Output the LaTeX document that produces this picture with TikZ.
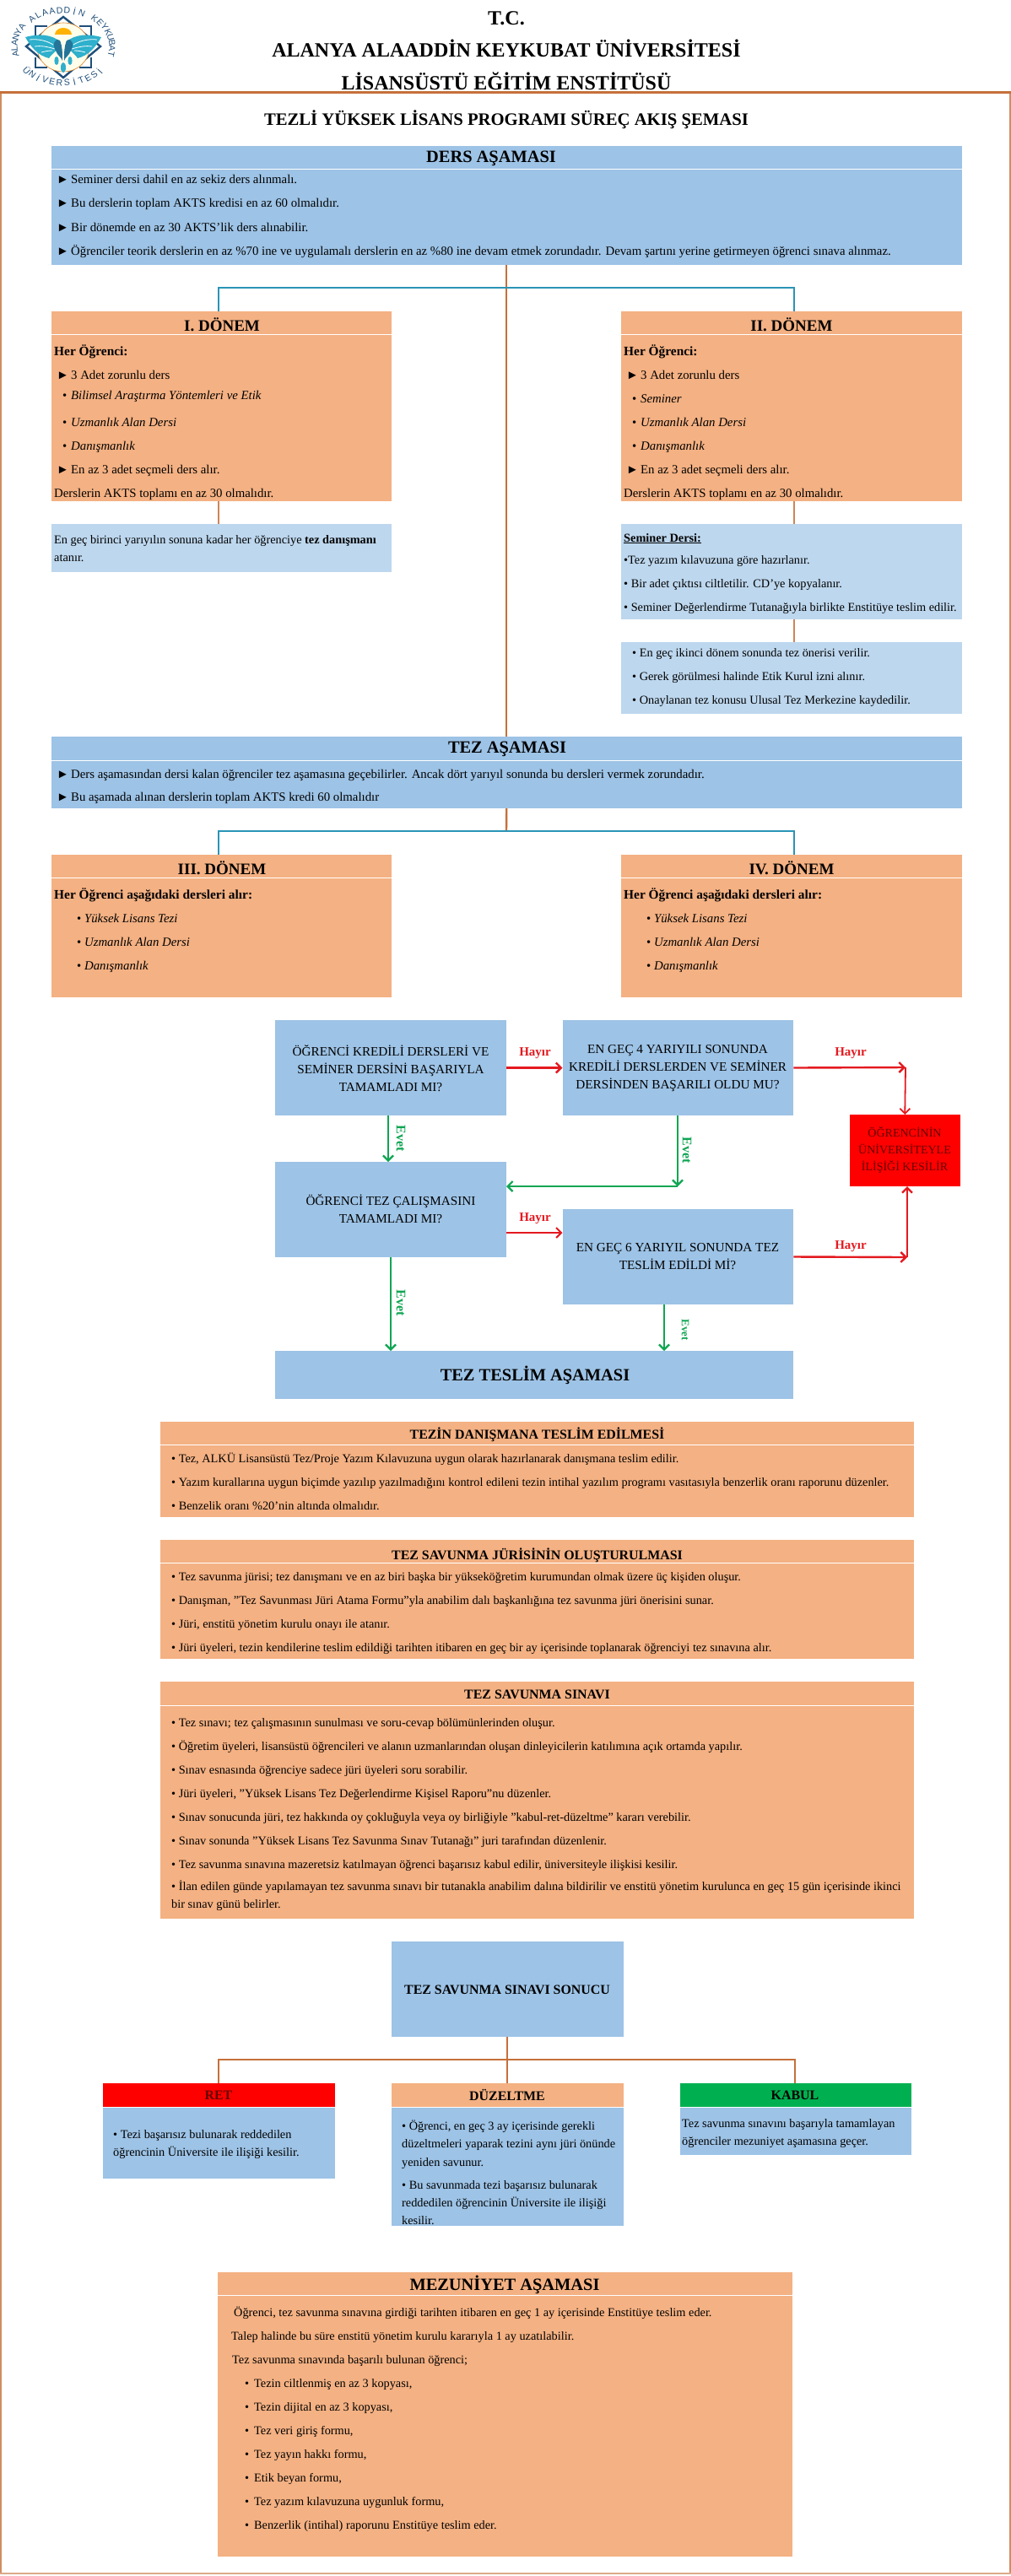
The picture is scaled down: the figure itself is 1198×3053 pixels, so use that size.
\documentclass[tikz,border=0pt]{standalone}
\usepackage{fontspec}
\setmainfont{Liberation Serif}
\newfontfamily\logofont{Liberation Sans}
\usetikzlibrary{fit,arrows.meta}
\definecolor{cBlue}{HTML}{9DC3E6}
\definecolor{cLight}{HTML}{BDD7EE}
\definecolor{cOrange}{HTML}{F4B183}
\definecolor{cBrown}{HTML}{C5703A}
\definecolor{cTeal}{HTML}{2A94B6}
\definecolor{cRed}{HTML}{E3191F}
\definecolor{cGreen}{HTML}{0FA552}
\definecolor{cKabul}{HTML}{00B050}
\definecolor{cNavy}{HTML}{1F4E79}
\definecolor{cWing}{HTML}{2FB0CC}
\tikzset{>={Straight Barb[length=6pt,width=12pt]}}
\tikzset{
  kutu/.style={inner sep=0pt,outer sep=0pt},
  satir/.style={anchor=base west,inner sep=0pt,yshift=-5pt,font=\fontsize{14.3}{17}\selectfont},
  satirb/.style={satir,font=\fontsize{14.8}{17}\selectfont},
  kalin/.style={satir,font=\bfseries\fontsize{15.4}{17}\selectfont},
  baslik/.style={inner sep=0pt,font=\bfseries\fontsize{20.4}{23}\selectfont},
  donemb/.style={inner sep=0pt,font=\bfseries\fontsize{19}{22}\selectfont},
  altbaslik/.style={inner sep=0pt,font=\bfseries\fontsize{15.9}{18}\selectfont},
  soru/.style={inner sep=0pt,align=center,font=\fontsize{15.2}{21}\selectfont},
  ustyazi/.style={inner sep=0pt,font=\bfseries\fontsize{24}{27}\selectfont},
  omurga/.style={cBrown,line width=2.4pt},
  dal/.style={cBrown!85,line width=1.8pt},
  mavidal/.style={cTeal,line width=2.6pt},
  hayirok/.style={cRed,line width=2.4pt,->},
  evetok/.style={cGreen,line width=2.2pt,->},
  hayir/.style={inner sep=0pt,text=cRed,font=\bfseries\fontsize{15}{17}\selectfont},
  evet/.style={inner sep=0pt,rotate=-90,text=cGreen,font=\bfseries\fontsize{16}{18}\selectfont},
  harf/.style={inner sep=0pt,text=cNavy,font=\logofont\fontsize{10.5}{12}\selectfont},
}
\newcommand{\kutuciz}[4]{\node[kutu,fill=#2,fit={(#3) (#4)}] (#1) {};}
\newcommand{\kural}[3]{\draw[white,line width=.8pt,double=#3,double distance=.8pt] (#1.west |- 0,#2) -- (#1.east |- 0,#2);}
\newcommand{\ok}{\makebox[17pt][l]{►}}
\newcommand{\mad}{\hspace{10pt}\makebox[10pt][l]{•}}
\begin{document}
\begin{tikzpicture}[x=1pt,y=-1pt]
    \useasboundingbox (0,0) rectangle (1198,3053);

    % logo
    \draw[cNavy,line width=2.4pt] (75,20)--(119,55)--(75,92)--(31,55)--cycle;
    \draw[cNavy,line width=2.6pt] (42,42)--(42,31)--(56,31) (94,31)--(108,31)--(108,42) (42,68)--(42,80)--(56,80) (94,80)--(108,80)--(108,68);
    \filldraw[fill=yellow!8,draw=orange!50!brown,line width=.6pt] (75,56) ellipse (31 and 29);
    \fill[orange!60!yellow] (65,41) arc (180:360:10 and 8)--cycle;
    \foreach \s in {1,-1} {
      \begin{scope}[shift={(75,0)},xscale=\s]
        \fill[cWing] (-3,50) .. controls (-14,40) and (-30,40) .. (-45,44) .. controls (-39,55) and (-30,66) .. (-17,69) .. controls (-12,62) and (-6,60) .. (-3,50);
        \draw[white,line width=.8pt] (-40,47) .. controls (-30,46) and (-20,48) .. (-12,53) (-34,55) .. controls (-27,54) and (-20,55) .. (-10,58) (-26,62) .. controls (-22,61) and (-18,60) .. (-13,60);
        \fill[cNavy!60!cWing] (-4,48) .. controls (-11,44) and (-13,54) .. (-9,60) .. controls (-7,66) and (-2,68) .. (-1,72) .. controls (-1,62) and (-1,55) .. (-4,48);
        \fill[cWing] (-8,72) ellipse (2.6 and 5);
      \end{scope}
    }
    \fill[cWing] (75,80) ellipse (3 and 6);
    \foreach \c [count=\n from 0] in {A,L,A,N,Y,A,{},A,L,A,A,D,D,İ,N,{},K,E,Y,K,U,B,A,T} {
      \node[harf,rotate={(192-8.87*\n)-90}] (ustharf\n) at ({75+58*cos(192-8.87*\n)},{55-43*sin(192-8.87*\n)}) {\c};
    }
    \foreach \c [count=\n from 0] in {Ü,N,İ,V,E,R,S,İ,T,E,S,İ} {
      \node[harf,rotate={(222+8.7*\n)+90}] (altharf\n) at ({75+58*cos(222+8.7*\n)},{55-43*sin(222+8.7*\n)}) {\c};
    }

    % ust yazilar
    \node[ustyazi] (tc) at (600,22) {T.C.};
    \node[ustyazi] (uni) at (600,57) {ALANYA ALAADDİN KEYKUBAT ÜNİVERSİTESİ};
    \node[ustyazi] (ens) at (600,96) {LİSANSÜSTÜ EĞİTİM ENSTİTÜSÜ};
    \node[inner sep=0pt,font=\bfseries\fontsize{20.7}{23}\selectfont] (sema) at (600,142) {TEZLİ YÜKSEK LİSANS PROGRAMI SÜREÇ AKIŞ ŞEMASI};

    % cerceve
    \draw[cBrown!80,line width=1.5pt] (1,110)--(1,3050) (1197,110)--(1197,3050);
    \draw[cBrown!60,line width=2.2pt] (0,3050)--(1198,3050);
    \draw[cBrown,line width=3pt] (0,110)--(1198,110);

    % ders asamasi
    \kutuciz{ders}{cBlue}{61,173}{1139.5,314}
    \kural{ders}{201}{cBlue}
    \node[baslik] (dersb) at (582,188) {DERS AŞAMASI};
    \foreach \y/\t in {213/{\ok Seminer dersi dahil en az sekiz ders alınmalı.},
      241/{\ok Bu derslerin toplam AKTS kredisi en az 60 olmalıdır.},
      269/{\ok Bir dönemde  en az 30 AKTS'lik ders alınabilir.},
      297/{\ok Öğrenciler teorik derslerin en az \%70 ine ve uygulamalı derslerin en az \%80 ine devam etmek zorundadır. Devam şartını yerine getirmeyen öğrenci sınava alınmaz.}} {
      \node[satirb] (ders\y) at (67,\y) {\t};
    }

    % I. ve II. donem
    \kutuciz{donema}{cOrange}{61,369}{464.4,594}
    \kutuciz{donemb}{cOrange}{736.4,369}{1139.5,594}
    \kural{donema}{397}{cOrange}
    \kural{donemb}{397}{cOrange}
    \node[donemb] (donemab) at (263,385) {I. DÖNEM};
    \node[donemb] (donembb) at (938,385) {II. DÖNEM};
    \foreach \x/\n in {64/a,739/b} {
      \node[kalin] (donem\n s) at (\x,416) {Her Öğrenci:};
      \foreach \y/\t in {444/{\hspace{3pt}\ok 3 Adet zorunlu ders},
        500/{\mad \textit{Uzmanlık Alan Dersi}},
        528/{\mad \textit{Danışmanlık}},
        556/{\hspace{3pt}\ok En az 3 adet seçmeli ders alır.},
        584/{Derslerin AKTS toplamı en az 30 olmalıdır.}} {
        \node[satirb] (donem\n\y) at (\x,\y) {\t};
      }
    }
    \node[satirb] (donema468) at (64,468) {\mad \textit{Bilimsel Araştırma Yöntemleri ve Etik}};
    \node[satirb] (donemb472) at (739,472) {\mad \textit{Seminer}};

    % danisman ve seminer kutulari
    \kutuciz{danisman}{cLight}{61,621}{464.4,678}
    \node[satir] (danismana) at (64,639) {En geç birinci yarıyılın sonuna kadar her öğrenciye \textbf{tez danışmanı}};
    \node[satir] (danismanb) at (64,660) {atanır.};
    \kutuciz{seminer}{cLight}{736.4,621}{1139.5,734}
    \foreach \y/\t in {637/{\textbf{\underline{Seminer Dersi:}}},
      663/{•Tez yazım kılavuzuna göre hazırlanır.},
      691/{• Bir adet çıktısı ciltletilir. CD'ye kopyalanır.},
      719/{• Seminer Değerlendirme Tutanağıyla birlikte Enstitüye teslim edilir.}} {
      \node[satir] (seminer\y) at (739,\y) {\t};
    }
    \kutuciz{oneri}{cLight}{736.4,761}{1139.5,846}
    \foreach \y/\t in {773/{• En geç ikinci dönem sonunda tez önerisi verilir.},
      801/{• Gerek görülmesi halinde Etik Kurul izni alınır.},
      829/{• Onaylanan tez konusu Ulusal Tez Merkezine kaydedilir.}} {
      \node[satir] (oneri\y) at (749,\y) {\t};
    }

    % tez asamasi
    \kutuciz{tez}{cBlue}{61,873}{1139.5,958}
    \kural{tez}{902}{cBlue}
    \node[baslik] (tezb) at (601,888) {TEZ AŞAMASI};
    \node[satirb] (teza) at (67,917) {\ok Ders aşamasından dersi kalan öğrenciler tez aşamasına geçebilirler. Ancak dört yarıyıl sonunda bu dersleri vermek zorundadır.};
    \node[satirb] (tezc) at (67,944) {\ok Bu aşamada alınan derslerin toplam AKTS kredi 60 olmalıdır};

    % III. ve IV. donem
    \kutuciz{donemc}{cOrange}{61,1013}{464.4,1182}
    \kutuciz{donemd}{cOrange}{736.4,1013}{1139.5,1182}
    \kural{donemc}{1041}{cOrange}
    \kural{donemd}{1041}{cOrange}
    \node[donemb] (donemcb) at (263,1029) {III. DÖNEM};
    \node[donemb] (donemdb) at (938,1029) {IV. DÖNEM};
    \foreach \x/\n in {64/c,739/d} {
      \node[kalin] (donem\n s) at (\x,1060) {Her Öğrenci aşağıdaki dersleri alır:};
      \foreach \y/\t in {1088/{Yüksek Lisans Tezi},1116/{Uzmanlık Alan Dersi},1144/{Danışmanlık}} {
        \node[satirb,xshift=27pt] (donem\n\y) at (\x,\y) {• \textit{\t}};
      }
    }

    % baglantilar ust
    \coordinate (mavia) at (259,341);
    \coordinate (mavib) at (941,341);
    \coordinate (mavic) at (259,985);
    \coordinate (mavid) at (941,985);
    \draw[omurga] (ders.south) -- (tez.north);
    \draw[omurga] (tez.south) -- (600,985);
    \draw[mavidal] (donema.north -| mavia) -- (mavia) -- (mavib) -- (donemb.north -| mavib);
    \draw[mavidal] (donemc.north -| mavic) -- (mavic) -- (mavid) -- (donemd.north -| mavid);
    \draw[dal] (donema.south -| mavia) -- (danisman.north -| mavia);
    \draw[dal] (donemb.south -| mavib) -- (seminer.north -| mavib);
    \draw[dal] (seminer.south -| mavib) -- (oneri.north -| mavib);

    % akis
    \kutuciz{krediders}{cBlue}{326,1209}{600,1322}
    \kutuciz{enges}{cBlue}{666.5,1209}{940.4,1322}
    \kutuciz{tezcalisma}{cBlue}{326,1377}{600,1490}
    \kutuciz{engea}{cBlue}{666.5,1433}{940.4,1546}
    \kutuciz{tezteslim}{cBlue}{326,1601}{940.4,1658}
    \kutuciz{iliski}{red}{1007,1321}{1137.5,1406}
    \node[soru] (kredidersy) at (463,1266) {ÖĞRENCİ KREDİLİ DERSLERİ VE\\SEMİNER DERSİNİ BAŞARIYLA\\TAMAMLADI MI?};
    \node[soru] (engesy) at (803,1266) {EN GEÇ 4 YARIYILI SONUNDA\\KREDİLİ DERSLERDEN VE SEMİNER\\DERSİNDEN BAŞARILI OLDU MU?};
    \node[soru] (tezcalismay) at (463,1433) {ÖĞRENCİ TEZ ÇALIŞMASINI\\TAMAMLADI MI?};
    \node[soru] (engeay) at (803,1489) {EN GEÇ 6 YARIYIL SONUNDA TEZ\\TESLİM EDİLDİ Mİ?};
    \node[baslik] (tezteslimy) at (634,1630) {TEZ TESLİM AŞAMASI};
    \node[soru,text=red!40!black,font=\fontsize{14}{20}\selectfont] (iliskiy) at (1072,1363) {ÖĞRENCİNİN\\ÜNİVERSİTEYLE\\İLİŞİĞİ KESİLİR};

    \coordinate (donusa) at (1073,1265);
    \coordinate (donusb) at (1075,1490);
    \coordinate (donusc) at (803,1406);
    \draw[hayirok] (krediders.east) -- (enges.west);
    \draw[hayirok] (enges.east) -- (donusa);
    \draw[hayirok,line width=1.8pt] (donusa) -- (iliski.north);
    \draw[hayirok,line width=2pt] (tezcalisma.east |- 0,1461) -- (engea.west |- 0,1461);
    \draw[hayirok] (engea.east) -- (donusb);
    \draw[hayirok] (donusb) -- (iliski.south -| donusb);
    \draw[evetok] (krediders.south -| 460,0) -- (tezcalisma.north -| 460,0);
    \draw[evetok] (enges.south -| donusc) -- (donusc);
    \draw[evetok] (donusc) -- (tezcalisma.east |- donusc);
    \draw[evetok] (tezcalisma.south) -- (tezteslim.north -| tezcalisma.south);
    \draw[evetok] (engea.south -| 787,0) -- (tezteslim.north -| 787,0);
    \node[hayir] (hayira) at (634,1248) {Hayır};
    \node[hayir] (hayirb) at (1008,1248) {Hayır};
    \node[hayir] (hayirc) at (634,1444) {Hayır};
    \node[hayir] (hayird) at (1008,1477) {Hayır};
    \node[evet] (eveta) at (475,1349) {Evet};
    \node[evet] (evetb) at (814,1363) {Evet};
    \node[evet] (evetc) at (475,1544) {Evet};
    \node[evet,font=\bfseries\fontsize{13}{15}\selectfont] (evetd) at (812,1576) {Evet};

    % teslim ve savunma
    \kutuciz{teslim}{cOrange}{190,1685}{1083,1798}
    \kural{teslim}{1713}{cOrange}
    \node[altbaslik] (teslimb) at (636.5,1700) {TEZİN DANIŞMANA TESLİM EDİLMESİ};
    \foreach \y/\t in {1728/{• Tez, ALKÜ  Lisansüstü Tez/Proje Yazım Kılavuzuna uygun olarak hazırlanarak danışmana teslim edilir.},
      1756/{• Yazım kurallarına uygun biçimde yazılıp yazılmadığını kontrol edileni tezin intihal yazılım programı vasıtasıyla benzerlik oranı raporunu düzenler.},
      1784/{• Benzelik oranı \%20'nin altında olmalıdır.}} {
      \node[satir] (teslim\y) at (203,\y) {\t};
    }
    \kutuciz{juri}{cOrange}{190,1825}{1083,1966}
    \kural{juri}{1853}{cOrange}
    \node[altbaslik] (jurib) at (636.5,1843) {TEZ SAVUNMA JÜRİSİNİN OLUŞTURULMASI};
    \foreach \y/\t in {1868/{• Tez savunma jürisi; tez danışmanı ve en az biri başka bir yükseköğretim kurumundan olmak üzere üç kişiden oluşur.},
      1896/{• Danışman, "Tez Savunması Jüri Atama Formu"yla anabilim dalı başkanlığına tez savunma jüri önerisini sunar.},
      1924/{• Jüri, enstitü yönetim kurulu onayı ile atanır.},
      1952/{• Jüri üyeleri, tezin kendilerine teslim edildiği tarihten itibaren en geç bir ay içerisinde toplanarak öğrenciyi tez sınavına alır.}} {
      \node[satir] (juri\y) at (203,\y) {\t};
    }
    \kutuciz{sinav}{cOrange}{190,1993}{1083,2274}
    \kural{sinav}{2022}{cOrange}
    \node[altbaslik] (sinavb) at (636.5,2008) {TEZ SAVUNMA SINAVI};
    \foreach \y/\t in {2041/{• Tez sınavı; tez çalışmasının sunulması ve soru-cevap bölümünlerinden oluşur.},
      2069/{• Öğretim üyeleri, lisansüstü öğrencileri ve alanın uzmanlarından oluşan dinleyicilerin katılımına açık ortamda yapılır.},
      2097/{• Sınav esnasında öğrenciye sadece jüri üyeleri soru sorabilir.},
      2125/{• Jüri üyeleri, "Yüksek Lisans Tez Değerlendirme Kişisel Raporu"nu düzenler.},
      2153/{• Sınav sonucunda jüri, tez hakkında oy çokluğuyla veya oy birliğiyle "kabul-ret-düzeltme" kararı verebilir.},
      2181/{• Sınav sonunda "Yüksek Lisans Tez Savunma Sınav Tutanağı" juri tarafından düzenlenir.},
      2209/{• Tez savunma sınavına mazeretsiz katılmayan öğrenci başarısız kabul edilir, üniversiteyle ilişkisi kesilir.},
      2235/{• İlan edilen günde yapılamayan tez savunma sınavı bir tutanakla anabilim dalına bildirilir ve enstitü yönetim kurulunca en geç 15 gün içerisinde ikinci},
      2256/{bir sınav günü belirler.}} {
      \node[satir] (sinav\y) at (203,\y) {\t};
    }

    % sinav sonucu
    \kutuciz{sonuc}{cBlue}{464,2301}{738.5,2414}
    \node[altbaslik] (sonucy) at (601,2358) {TEZ SAVUNMA SINAVI SONUCU};
    \kutuciz{ret}{red}{122,2469}{397,2497}
    \kutuciz{retg}{cBlue}{122,2497}{397,2582}
    \kutuciz{duz}{cOrange}{464,2469}{738.5,2497}
    \kutuciz{duzg}{cBlue}{464,2497}{738.5,2638}
    \kutuciz{kabul}{cKabul}{806,2469}{1080,2497}
    \kutuciz{kabulg}{cBlue}{806,2497}{1080,2554}
    \kural{retg}{2498}{cBlue}
    \kural{duzg}{2498}{cBlue}
    \kural{kabulg}{2498}{cBlue}
    \node[altbaslik,text=red!40!black] (retb) at (259,2483) {RET};
    \node[altbaslik] (duzb) at (601,2483) {DÜZELTME};
    \node[altbaslik] (kabulb) at (942,2483) {KABUL};
    \node[satir] (retr) at (134,2529) {• Tezi başarısız bulunarak reddedilen};
    \node[satir] (rets) at (134,2550) {öğrencinin Üniversite ile ilişiği kesilir.};
    \foreach \y/\t in {2519/{• Öğrenci, en geç 3 ay içerisinde gerekli},
      2540/{düzeltmeleri yaparak tezini aynı jüri önünde},
      2562/{yeniden savunur.},
      2589/{• Bu savunmada tezi başarısız bulunarak},
      2610/{reddedilen öğrencinin Üniversite ile ilişiği},
      2631/{kesilir.}} {
      \node[satir] (duz\y) at (476,\y) {\t};
    }
    \node[satir] (kabulr) at (808,2516) {Tez savunma sınavını başarıyla tamamlayan};
    \node[satir] (kabuls) at (808,2537) {öğrenciler mezuniyet aşamasına geçer.};
    \coordinate (sonuca) at (259,2441);
    \coordinate (sonucb) at (942,2441);
    \draw[omurga] (sonuc.south) -- (duz.north -| sonuc.south);
    \draw[omurga] (ret.north -| sonuca) -- (sonuca) -- (sonucb) -- (kabul.north -| sonucb);

    % mezuniyet
    \kutuciz{mezun}{cOrange}{258,2693}{939,3030}
    \kural{mezun}{2721}{cOrange}
    \node[baslik] (mezunb) at (598,2708) {MEZUNİYET AŞAMASI};
    \node[satir] (mezuna) at (277,2740) {Öğrenci, tez savunma sınavına girdiği tarihten itibaren en geç 1 ay içerisinde Enstitüye teslim eder.};
    \node[satir] (mezunc) at (274,2768) {Talep halinde bu süre enstitü yönetim kurulu kararıyla 1 ay uzatılabilir.};
    \node[satir] (mezund) at (275,2796) {Tez savunma sınavında başarılı bulunan öğrenci;};
    \foreach \y/\t in {2824/{Tezin ciltlenmiş en az 3 kopyası,},
      2852/{Tezin dijital en az 3 kopyası,},
      2880/{Tez veri giriş formu,},
      2908/{Tez yayın hakkı formu,},
      2936/{Etik beyan formu,},
      2964/{Tez yazım kılavuzuna uygunluk formu,},
      2992/{Benzerlik (intihal) raporunu  Enstitüye teslim eder.}} {
      \node[satir] (mezunm\y) at (290,\y) {•\hspace{6pt}\t};
    }
\end{tikzpicture}
\end{document}
